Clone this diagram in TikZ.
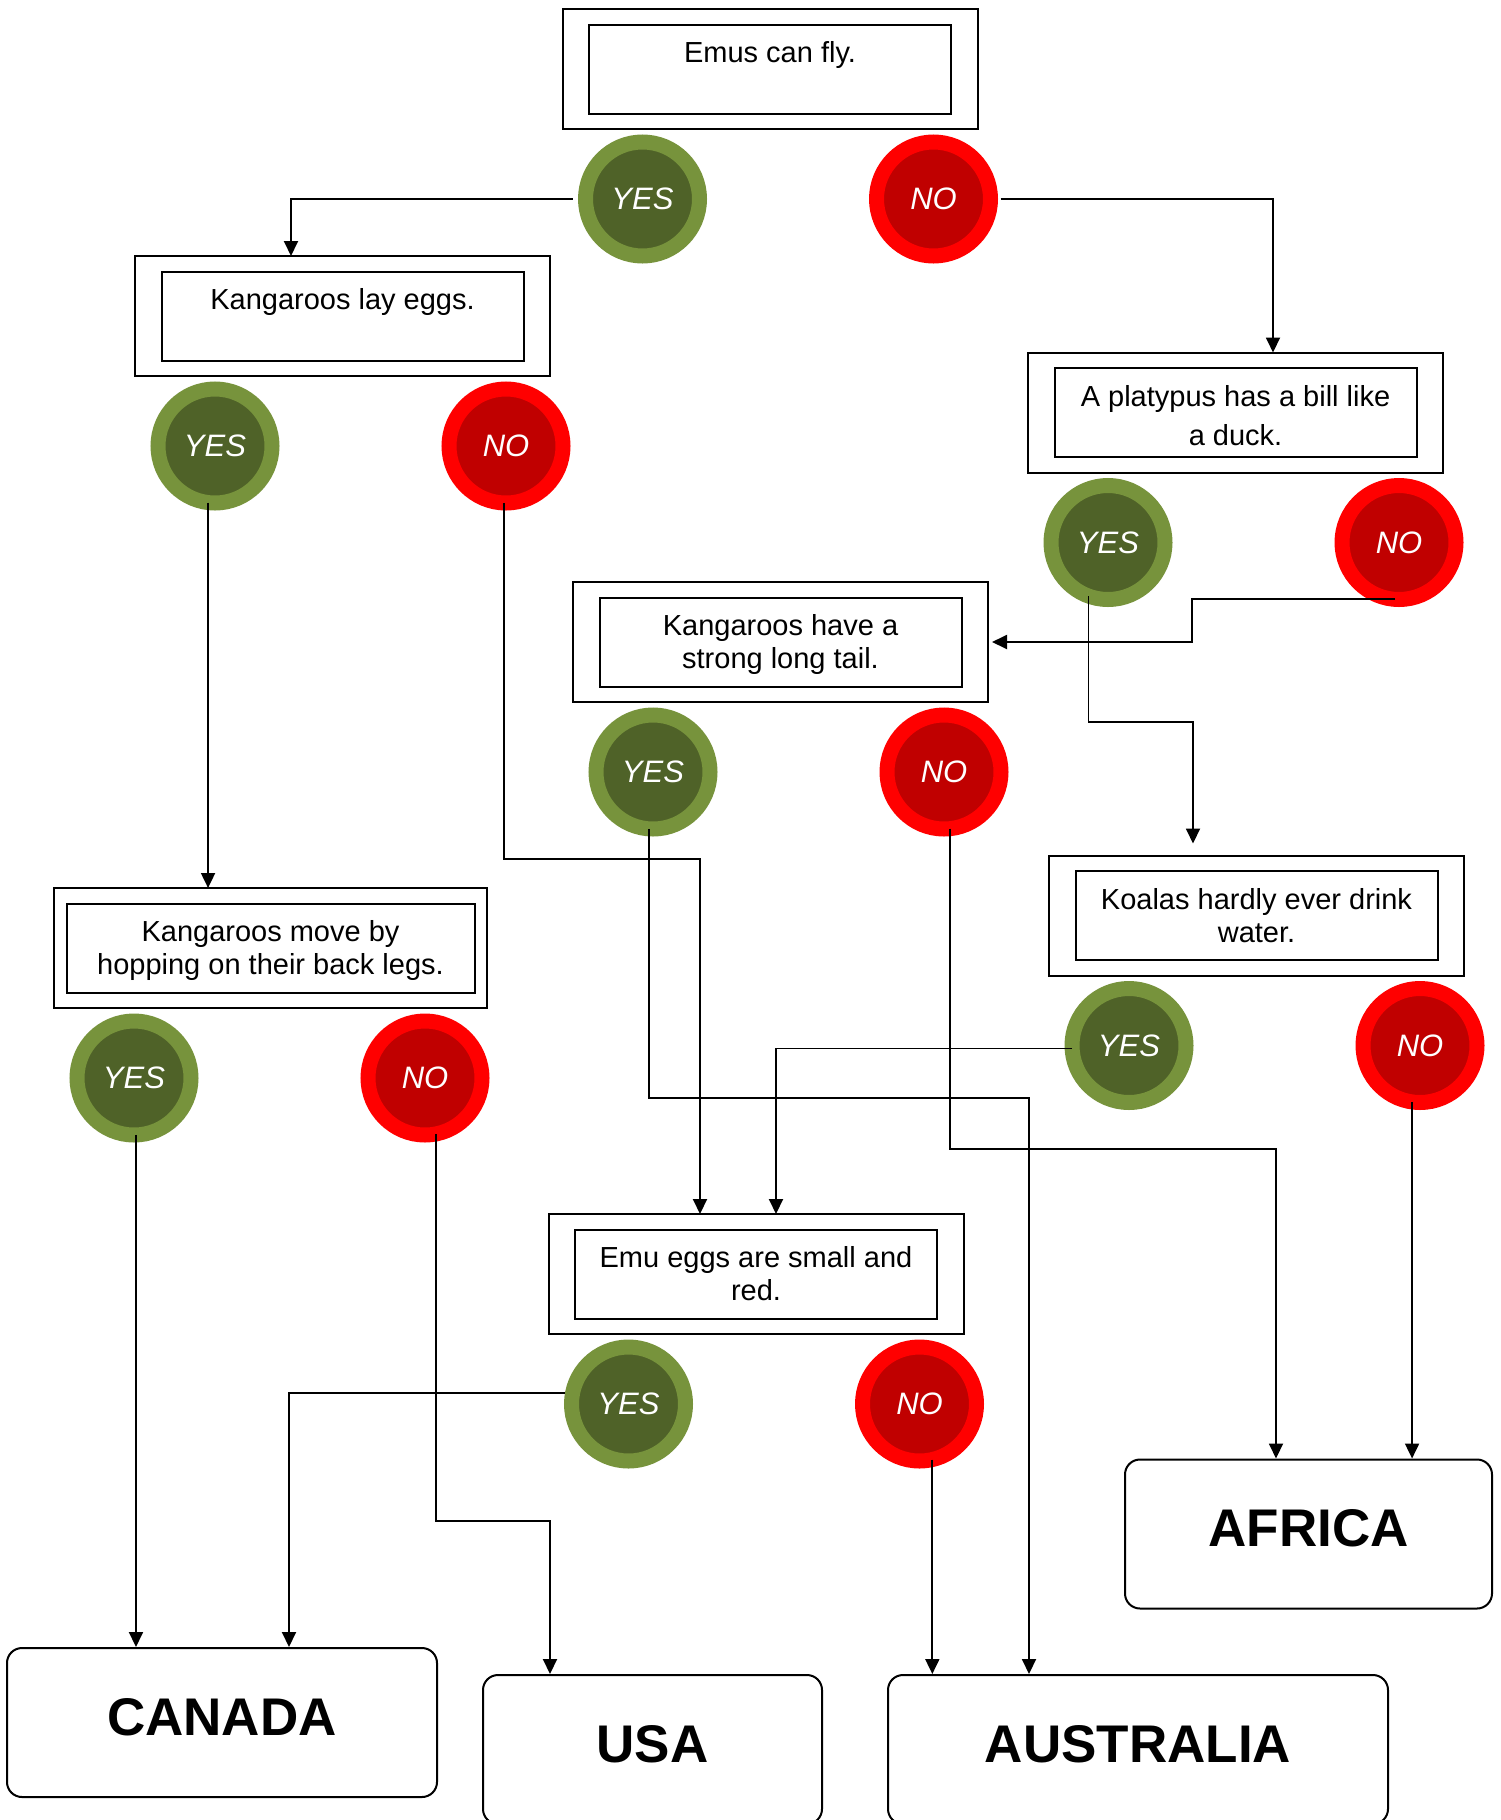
\documentclass[tikz,border=0pt]{standalone}
\usepackage{fontspec}
\setmainfont{Liberation Sans}
\usetikzlibrary{positioning, arrows.meta, calc}
\usepackage{xcolor}

\definecolor{yesring}{HTML}{77933C}
\definecolor{yesfill}{HTML}{4F6228}
\definecolor{noring}{HTML}{FF0000}
\definecolor{nofill}{HTML}{C00000}

\begin{document}
\begin{tikzpicture}[
    x=1pt, y=-1pt,
    question/.style={rectangle, draw, line width=2pt, minimum width=415pt, minimum height=120pt, inner sep=0pt, outer sep=0pt},
    statement/.style={rectangle, draw, line width=2pt, minimum width=362pt, minimum height=89pt, inner sep=0pt, align=center, text height=21pt, text depth=34pt, font=\fontsize{29pt}{33pt}\selectfont},
    twoline/.style={statement, text height=54pt, text depth=1pt},
    yesbtn/.style={circle, draw=yesring, fill=yesfill, line width=15pt, minimum size=114pt, inner sep=0pt, outer sep=0pt, text=white, font=\fontsize{31pt}{36pt}\selectfont\itshape},
    nobtn/.style={yesbtn, draw=noring, fill=nofill},
    country/.style={rectangle, rounded corners=15pt, draw, line width=2pt, minimum height=149pt, text height=44pt, text depth=19pt, font=\fontsize{53pt}{60pt}\selectfont\bfseries},
    link/.style={-{Triangle[length=15pt, width=14pt]}, line width=1.9pt}
]
    \useasboundingbox (0,0) rectangle (1501,1820);

    % Questions
    \node[question] (emu) at (770,69) {};
    \node[statement] (emu-text) at (emu.center) {Emus can fly.};

    \node[question] (lay) at (342.5,316) {};
    \node[statement] (lay-text) at (lay.center) {Kangaroos lay eggs.};

    \node[question] (platypus) at (1235.5,412.5) {};
    \node[twoline, text height=66pt, font=\fontsize{29pt}{39pt}\selectfont] (platypus-text) at (platypus.center) {A platypus has a bill like\\ a duck.};

    \node[question] (tail) at (780.5,642) {};
    \node[twoline] (tail-text) at (tail.center) {Kangaroos have a\\ strong long tail.};

    \node[question] (koala) at (1256.5,915.5) {};
    \node[twoline] (koala-text) at (koala.center) {Koalas hardly ever drink\\ water.};

    \node[question, minimum width=433pt] (hop) at (270.5,948) {};
    \node[twoline, minimum width=408pt] (hop-text) at (hop.center) {Kangaroos move by\\ hopping on their back legs.};

    \node[question] (eggs) at (756,1274) {};
    \node[twoline] (eggs-text) at (eggs.center) {Emu eggs are small and\\ red.};

    % Answers
    \node[yesbtn] (emu-yes) at ($(emu.south west)+(80,70)$) {YES};
    \node[nobtn, right=177pt of emu-yes] (emu-no) {NO};

    \node[yesbtn] (lay-yes) at ($(lay.south west)+(80,70)$) {YES};
    \node[nobtn, right=177pt of lay-yes] (lay-no) {NO};

    \node[yesbtn] (platypus-yes) at ($(platypus.south west)+(80,70)$) {YES};
    \node[nobtn, right=177pt of platypus-yes] (platypus-no) {NO};

    \node[yesbtn] (tail-yes) at ($(tail.south west)+(80,70)$) {YES};
    \node[nobtn, right=177pt of tail-yes] (tail-no) {NO};

    \node[yesbtn] (koala-yes) at ($(koala.south west)+(80,70)$) {YES};
    \node[nobtn, right=177pt of koala-yes] (koala-no) {NO};

    \node[yesbtn] (hop-yes) at ($(hop.south west)+(80,70)$) {YES};
    \node[nobtn, right=177pt of hop-yes] (hop-no) {NO};

    \node[yesbtn] (eggs-yes) at ($(eggs.south west)+(80,70)$) {YES};
    \node[nobtn, right=177pt of eggs-yes] (eggs-no) {NO};

    % Countries
    \node[country, minimum width=430pt] (canada) at (222,1722.5) {CANADA};
    \node[country, minimum width=339pt] (usa) at (652.5,1749.5) {USA};
    \node[country, minimum width=500pt] (australia) at (1138,1749.5) {AUSTRALIA};
    \node[country, minimum width=367pt] (africa) at (1308.5,1534) {AFRICA};

    % Links
    \draw[link] ([xshift=-13pt]emu-yes.west) -| ([xshift=-51.5pt]lay.north);
    \draw[link] ([xshift=10pt]emu-no.east) -| ([xshift=37.5pt]platypus.north);
    \draw[link] (lay-yes.263) -- (lay-yes.263 |- hop.north);
    \draw[link] (lay-no.268) -- ++(0,356) -| ([xshift=-56pt]eggs.north);
    \draw[link] (platypus-yes.250) -- ++(0,126) -| ([xshift=-63.5pt, yshift=12pt]koala.north);
    \draw[link] (platypus-no.266) -- ++(-203,0) |- ([xshift=4pt]tail.east);
    \draw[link] (tail-yes.266) -- ++(0,269) -| ([xshift=-109pt]australia.north);
    \draw[link] (tail-no.276) -- ++(0,320) -| ([xshift=-32.5pt]africa.north);
    \draw[link] (koala-yes.183) -| ([xshift=20pt]eggs.north);
    \draw[link] (koala-no.262) -- (koala-no.262 |- africa.north);
    \draw[link] (hop-yes.272) -- (hop-yes.272 |- canada.north);
    \draw[link] (hop-no.281) -- ++(0,387) -| ([xshift=-102.5pt]usa.north);
    \draw[link] ([xshift=-8pt]eggs-yes.169) -| ([xshift=67pt]canada.north);
    \draw[link] (eggs-no.283) -- (eggs-no.283 |- australia.north);

\end{tikzpicture}
\end{document}
